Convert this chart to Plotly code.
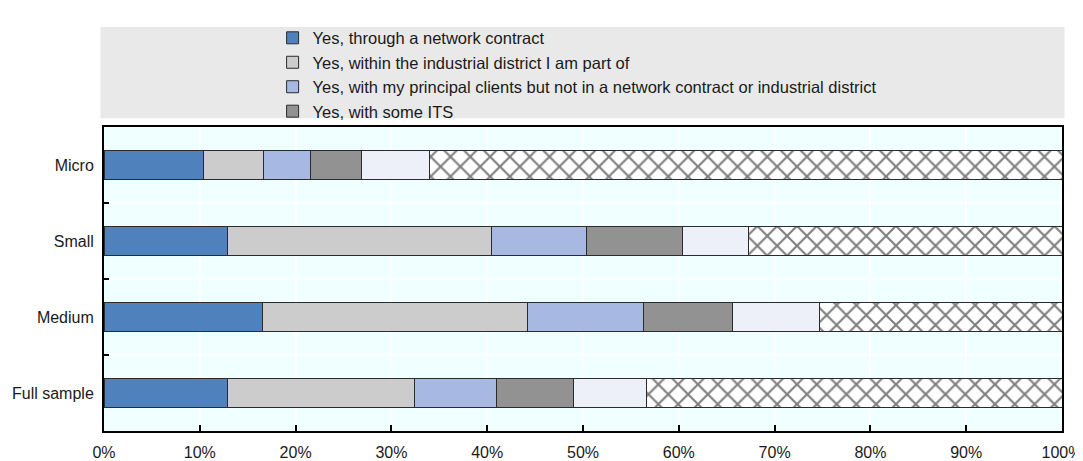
import plotly.graph_objects as go

# ── Data ────────────────────────────────────────────────────────────────────
categories = ["Micro", "Small", "Medium", "Full sample"]

series_names = [
    "Yes, through a network contract",
    "Yes, within the industrial district I am part of",
    "Yes, with my principal clients but not in a network contract or industrial district",
    "Yes, with some ITS",
    "Yes, other",
    "No",
]
network_contract = [10.4, 12.9, 16.5, 12.9]
industrial_district = [6.2, 27.6, 27.7, 19.5]
principal_clients = [5.0, 9.9, 12.1, 8.6]
some_its = [5.3, 10.0, 9.3, 8.0]
other_yes = [7.1, 6.9, 9.1, 7.6]
no_answer = [66.0, 32.7, 25.3, 43.4]

x_ticks = [0, 10, 20, 30, 40, 50, 60, 70, 80, 90, 100]

# ── Styles ──────────────────────────────────────────────────────────────────
FONT = "Liberation Sans, Arial, sans-serif"
colors = ["#4F81BD", "#CCCCCC", "#A7B9E3", "#929292", "#EDF0F9", "#FFFFFF"]
values = [network_contract, industrial_district, principal_clients,
          some_its, other_yes, no_answer]

fig = go.Figure()
for i, (name, vals) in enumerate(zip(series_names, values)):
    marker = dict(color=colors[i], line=dict(color="#2b2b2b", width=1))
    if name == "No":
        marker["pattern"] = dict(shape="x", fgcolor="#000000", bgcolor="#FFFFFF",
                                 size=14, solidity=0.28)
    fig.add_trace(go.Bar(
        y=categories, x=vals, name=name, orientation="h",
        marker=marker, width=0.39,
        showlegend=i < 4,
    ))

# grey band behind the legend
fig.add_shape(type="rect", xref="paper", yref="paper",
              x0=-0.0037, x1=1.0026, y0=1.029, y1=1.329,
              fillcolor="#E9E9E9", line=dict(width=0), layer="below")

# the page body adds an 8px margin, so the figure is 16px smaller than the window
fig.update_layout(
    barmode="stack",
    width=1075, height=453,
    margin=dict(l=96, r=21, t=110, b=30),
    paper_bgcolor="#FFFFFF",
    plot_bgcolor="#F0FFFF",
    font=dict(family=FONT, size=16, color="#1a1a1a"),
    legend=dict(
        x=0.176, y=1.35, xanchor="left", yanchor="top",
        bgcolor="rgba(0,0,0,0)", traceorder="normal",
        font=dict(size=16.5), itemwidth=30,
    ),
    bargap=0.6,
)
fig.update_xaxes(
    range=[0, 100], autorange=False,
    tickvals=x_ticks, ticktext=[f"{t}%" for t in x_ticks],
    ticks="inside", ticklen=6, tickcolor="#000000", tickwidth=1.5,
    showgrid=True, gridcolor="#FFFFFF", gridwidth=1.5,
    showline=True, linecolor="#000000", linewidth=2, mirror=True,
    zeroline=False, automargin=False, ticklabelstandoff=6,
)
fig.update_yaxes(
    autorange="reversed", tickson="boundaries",
    ticks="inside", ticklen=5, tickcolor="#000000", tickwidth=1.5,
    showgrid=True, gridcolor="#FFFFFF", gridwidth=1.5,
    showline=True, linecolor="#000000", linewidth=2, mirror=True,
    zeroline=False, automargin=False, ticklabelstandoff=5,
)

fig.write_html("out.html")
